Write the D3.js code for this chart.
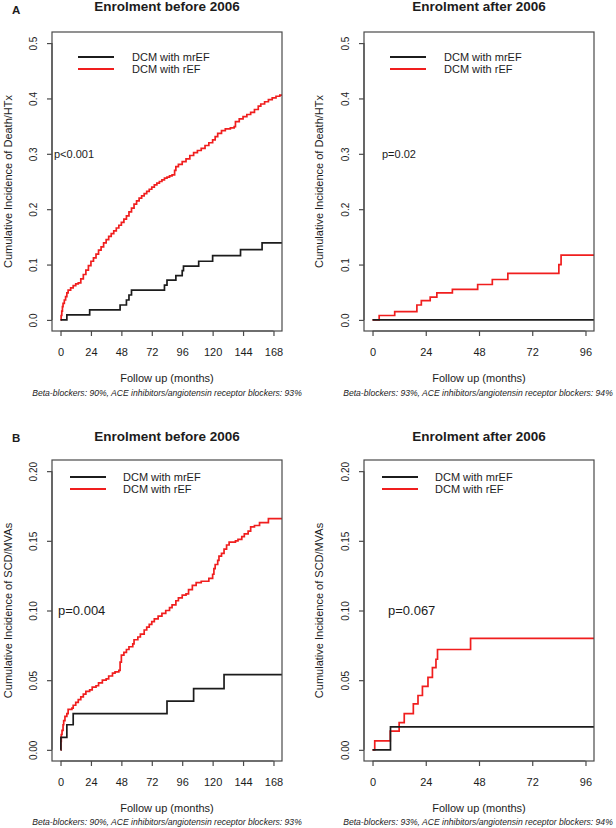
<!DOCTYPE html>
<html><head><meta charset="utf-8">
<script src="https://cdn.jsdelivr.net/npm/d3@7"></script>
<style>
body{margin:0;background:#fff}
svg{display:block}
text{font-family:"Liberation Sans",Arial,sans-serif;fill:#1c1c1c}
</style>
</head><body><svg id="c" width="616" height="828"></svg>
<script>
// ---------- DATA ----------
const panelLetters = ["A", "B"];
const panelTitles = ["Enrolment before 2006", "Enrolment after 2006"];
const seriesNames = ["DCM with mrEF", "DCM with rEF"];
const xLabel = "Follow up (months)";
const yLabels = ["Cumulative Incidence of Death/HTx", "Cumulative Incidence of SCD/MVAs"];
const xTicksBefore = [0, 24, 48, 72, 96, 120, 144, 168];
const xTicksAfter = [0, 24, 48, 72, 96];
const yTicksA = [0, 0.1, 0.2, 0.3, 0.4, 0.5];
const yTickLabelsA = ["0.0", "0.1", "0.2", "0.3", "0.4", "0.5"];
const yTicksB = [0, 0.05, 0.10, 0.15, 0.20];
const yTickLabelsB = ["0.00", "0.05", "0.10", "0.15", "0.20"];
const pValues = ["p<0.001", "p=0.02", "p=0.004", "p=0.067"];
const footnotes = [
  "Beta-blockers: 90%, ACE inhibitors/angiotensin receptor blockers: 93%",
  "Beta-blockers: 93%, ACE inhibitors/angiotensin receptor blockers: 94%",
  "Beta-blockers: 90%, ACE inhibitors/angiotensin receptor blockers: 93%",
  "Beta-blockers: 93%, ACE inhibitors/angiotensin receptor blockers: 94%"
];

// [months, cumulative incidence] step points
const aBeforeMrEF = [[0,0],[5,0.009],[23,0.018],[47,0.027],[52,0.036],[54,0.045],[56,0.054],[82,0.063],[84,0.072],[91,0.080],[96,0.089],[97,0.097],[109,0.106],[120,0.116],[142,0.127],[159,0.139],[175,0.139]];
const aBeforeREF = [[0,0],[0.5,0.008],[1,0.016],[1.5,0.024],[2,0.030],[3,0.036],[4,0.042],[5,0.049],[6,0.054],[8,0.058],[10,0.062],[12,0.065],[14,0.067],[16,0.074],[18,0.082],[20,0.090],[22,0.098],[24,0.106],[26,0.112],[28,0.119],[30,0.126],[32,0.132],[34,0.139],[36,0.145],[38,0.151],[40,0.156],[42,0.161],[44,0.166],[46,0.171],[48,0.176],[50,0.182],[52,0.188],[54,0.195],[56,0.202],[58,0.209],[60,0.215],[62,0.220],[64,0.224],[66,0.228],[68,0.232],[70,0.236],[72,0.240],[74,0.244],[76,0.247],[78,0.250],[80,0.253],[82,0.256],[84,0.258],[86,0.260],[88,0.262],[90,0.270],[91,0.277],[93,0.281],[96,0.286],[99,0.291],[102,0.297],[105,0.302],[108,0.306],[111,0.310],[114,0.315],[117,0.320],[120,0.325],[122,0.331],[124,0.337],[127,0.342],[130,0.345],[134,0.347],[137,0.349],[138,0.358],[141,0.363],[144,0.367],[147,0.371],[150,0.375],[153,0.380],[156,0.386],[158,0.390],[161,0.394],[164,0.398],[167,0.401],[170,0.404],[173,0.406],[175,0.406]];
const aAfterMrEF = [[0,0],[100,0]];
const aAfterREF = [[0,0],[3,0.008],[10,0.015],[20,0.027],[22,0.035],[26,0.041],[29,0.049],[36,0.055],[47.4,0.064],[54,0.073],[61,0.084],[84,0.100],[85,0.117],[100,0.117]];
const bBeforeMrEF = [[0,0],[0.3,0.009],[5,0.018],[10,0.026],[84,0.035],[105,0.044],[129,0.054],[175,0.054]];
const bBeforeREF = [[0,0],[0.3,0.006],[0.6,0.011],[1.2,0.014],[2,0.018],[2.5,0.021],[3.5,0.024],[5,0.026],[6,0.029],[9,0.030],[10,0.032],[12,0.034],[14,0.036],[16,0.038],[18,0.040],[20,0.042],[23,0.043],[25,0.045],[28,0.046],[30,0.048],[33,0.050],[36,0.051],[38,0.053],[41,0.055],[43,0.056],[46,0.057],[47,0.063],[48,0.068],[50,0.070],[52,0.072],[54,0.074],[57,0.076],[58,0.079],[61,0.081],[63,0.083],[66,0.086],[68,0.088],[70,0.090],[72,0.092],[74,0.094],[77,0.096],[80,0.098],[83,0.100],[86,0.102],[88,0.104],[91,0.107],[93,0.109],[96,0.111],[99,0.112],[101,0.115],[104,0.118],[107,0.120],[111,0.121],[117,0.123],[120,0.126],[121,0.130],[122,0.133],[124,0.136],[125,0.139],[127,0.141],[129,0.144],[131,0.147],[133,0.149],[138,0.150],[140,0.151],[143,0.153],[145,0.155],[148,0.157],[150,0.160],[153,0.161],[157,0.163],[164,0.166],[175,0.166]];
const bAfterMrEF = [[0,0],[8.1,0.0165],[100,0.0165]];
const bAfterREF = [[0,0],[1,0.0065],[8,0.0135],[12,0.0195],[14.3,0.026],[18.4,0.033],[20.5,0.039],[22.5,0.0455],[25,0.052],[27,0.059],[28.6,0.065],[29.3,0.072],[44.2,0.080],[100,0.080]];

// ---------- LAYOUT ----------
const colors = ["#1c1c1c", "#f01e1e"];
const svg = d3.select("#c");
svg.append("rect").attr("width", 616).attr("height", 828).attr("fill", "#fff");

const panels = [
  {id:"a0", row:0, col:0, x0:52,  x1:282, y0:32,  y1:331, xmax:168, ymax:0.5, xt:xTicksBefore, yt:yTicksA, ytl:yTickLabelsA, data:[aBeforeMrEF, aBeforeREF], p:pValues[0], px:54,  py:0.3, pfs:11, leg:{lx:26, tx:80, ly:25}, foot:footnotes[0], fx:167, fy:396, tx:167, ty:10.5},
  {id:"a1", row:0, col:1, x0:364, x1:594, y0:32,  y1:331, xmax:96,  ymax:0.5, xt:xTicksAfter,  yt:yTicksA, ytl:yTickLabelsA, data:[aAfterMrEF, aAfterREF],   p:pValues[1], px:382, py:0.3, pfs:11, leg:{lx:26, tx:80, ly:25}, foot:footnotes[1], fx:478, fy:396, tx:479, ty:10.5},
  {id:"b0", row:1, col:0, x0:52,  x1:282, y0:460, y1:761, xmax:168, ymax:0.2, xt:xTicksBefore, yt:yTicksB, ytl:yTickLabelsB, data:[bBeforeMrEF, bBeforeREF], p:pValues[2], px:58,  py:0.1, pfs:13, leg:{lx:18, tx:71, ly:17}, foot:footnotes[2], fx:167, fy:825, tx:167, ty:441},
  {id:"b1", row:1, col:1, x0:364, x1:594, y0:460, y1:761, xmax:96,  ymax:0.2, xt:xTicksAfter,  yt:yTicksB, ytl:yTickLabelsB, data:[bAfterMrEF, bAfterREF],   p:pValues[3], px:388, py:0.1, pfs:13, leg:{lx:18, tx:71, ly:17}, foot:footnotes[3], fx:478, fy:825, tx:479, ty:441}
];

const axisColor = "#4a4a4a";

panels.forEach(P => {
  const x = d3.scaleLinear().domain([-0.04 * P.xmax, 1.04 * P.xmax]).range([P.x0, P.x1]);
  const y = d3.scaleLinear().domain([-0.04 * P.ymax, 1.04 * P.ymax]).range([P.y1, P.y0]);
  const g = svg.append("g");

  // clip
  svg.append("clipPath").attr("id", "clip-" + P.id)
    .append("rect").attr("x", P.x0).attr("y", P.y0).attr("width", P.x1 - P.x0).attr("height", P.y1 - P.y0);

  // title
  g.append("text").attr("x", P.tx).attr("y", P.ty).attr("text-anchor", "middle")
    .style("font-weight", "bold").style("font-size", "13.5px").text(panelTitles[P.col]);

  // curves (rEF first, then mrEF on top)
  const line = d3.line().x(d => x(d[0])).y(d => y(d[1])).curve(d3.curveStepAfter);
  const cg = g.append("g").attr("clip-path", "url(#clip-" + P.id + ")");
  [1, 0].forEach(i => {
    cg.append("path").datum(P.data[i]).attr("d", line)
      .attr("fill", "none").attr("stroke", colors[i]).attr("stroke-width", 1.7);
  });

  // box
  g.append("rect").attr("x", P.x0).attr("y", P.y0).attr("width", P.x1 - P.x0).attr("height", P.y1 - P.y0)
    .attr("fill", "none").attr("stroke", axisColor).attr("stroke-width", 1.2);

  // x axis
  const xa = d3.axisBottom(x).tickValues(P.xt).tickSize(5).tickPadding(5).tickFormat(d3.format("d"));
  const xg = g.append("g").attr("transform", `translate(0,${P.y1})`).call(xa);
  xg.select(".domain").attr("stroke", axisColor).attr("stroke-width", 1.2).attr("d", `M${x(P.xt[0])},0H${x(P.xt[P.xt.length-1])}`);
  xg.selectAll(".tick line").attr("stroke", axisColor).attr("stroke-width", 1.2);
  xg.selectAll(".tick text").attr("y", 0).attr("dy", 0).attr("transform", "translate(0,24.5)")
    .style("font-size", "11px").style("font-family", '"Liberation Sans",Arial,sans-serif').attr("fill", "#1c1c1c");

  // y axis
  const ya = d3.axisLeft(y).tickValues(P.yt).tickSize(5).tickFormat((d, i) => P.ytl[i]);
  const yg = g.append("g").attr("transform", `translate(${P.x0},0)`).call(ya);
  yg.select(".domain").attr("stroke", axisColor).attr("stroke-width", 1.2).attr("d", `M0,${y(P.yt[0])}V${y(P.yt[P.yt.length-1])}`);
  yg.selectAll(".tick line").attr("stroke", axisColor).attr("stroke-width", 1.2);
  yg.selectAll(".tick text").attr("x", null).attr("dy", null)
    .attr("text-anchor", "middle").attr("dominant-baseline", "central")
    .attr("transform", "translate(-19,0) rotate(-90)")
    .style("font-size", "10px").style("font-family", '"Liberation Sans",Arial,sans-serif').attr("fill", "#1c1c1c");

  // axis labels
  g.append("text").attr("x", (P.x0 + P.x1) / 2).attr("y", P.y1 + 51).attr("text-anchor", "middle")
    .style("font-size", "11px").text(xLabel);
  const ylx = P.col === 0 ? 8 : 318.5;
  g.append("text").attr("transform", `translate(${ylx},${(P.y0 + P.y1) / 2}) rotate(-90)`)
    .attr("text-anchor", "middle").attr("dominant-baseline", "central")
    .style("font-size", "11px").text(yLabels[P.row]);

  // legend
  seriesNames.forEach((name, i) => {
    const ly = P.y0 + P.leg.ly + i * 12;
    g.append("line").attr("x1", P.x0 + P.leg.lx).attr("x2", P.x0 + P.leg.lx + 36)
      .attr("y1", ly).attr("y2", ly).attr("stroke", colors[i]).attr("stroke-width", 1.8);
    g.append("text").attr("x", P.x0 + P.leg.tx).attr("y", ly).attr("dominant-baseline", "central")
      .style("font-size", "11px").text(name);
  });

  // p-value
  g.append("text").attr("x", P.px).attr("y", y(P.py)).attr("dominant-baseline", "central")
    .style("font-size", P.pfs + "px").text(P.p);

  // footnote (fit to measured width)
  const ft = g.append("text").attr("x", P.fx).attr("y", P.fy).attr("text-anchor", "middle")
    .style("font-style", "italic").style("font-size", "10px").text(P.foot);
  const len = ft.node().getComputedTextLength();
  ft.style("font-size", (10 * 270 / len).toFixed(2) + "px");
});

// panel letters
svg.append("text").attr("x", 12).attr("y", 13.5).style("font-weight", "bold").style("font-size", "11.5px").text(panelLetters[0]);
svg.append("text").attr("x", 12).attr("y", 441.5).style("font-weight", "bold").style("font-size", "11.5px").text(panelLetters[1]);
</script>
</body></html>
